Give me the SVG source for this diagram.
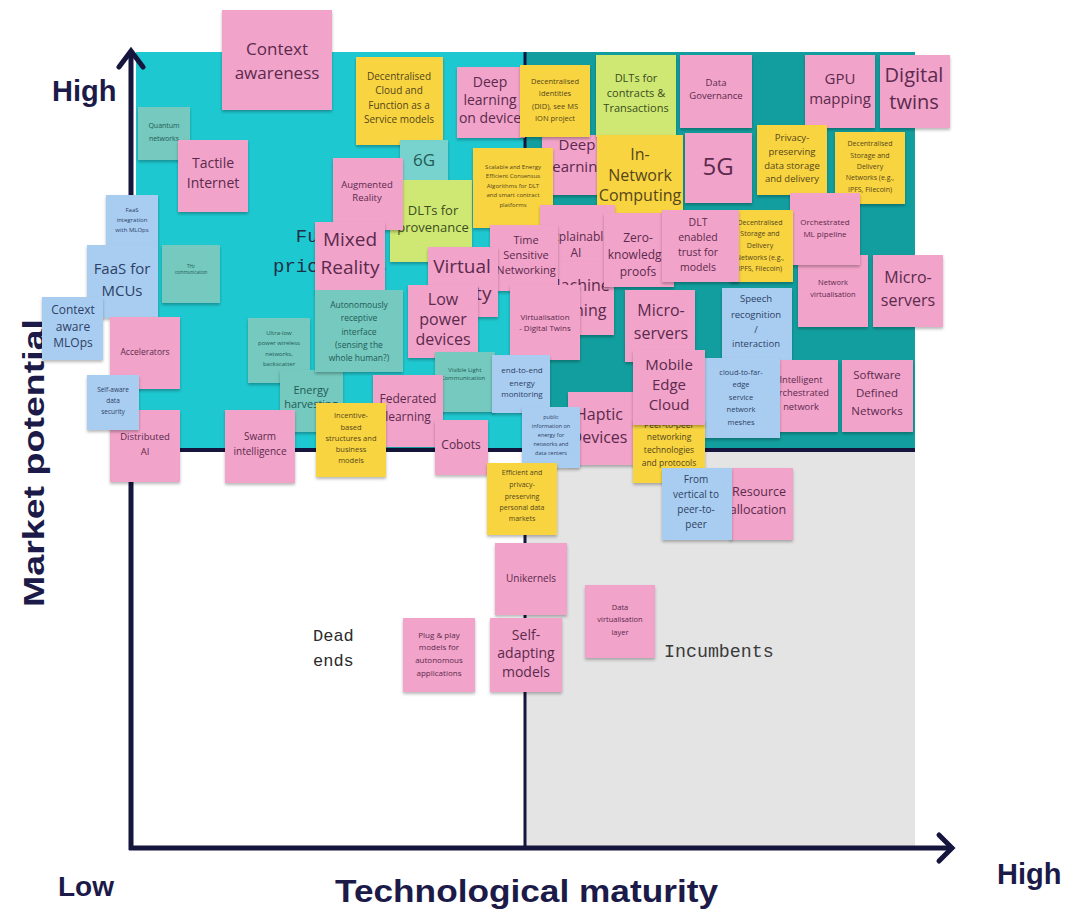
<svg xmlns="http://www.w3.org/2000/svg" width="1066" height="916" viewBox="0 0 1066 916">
<defs>
<filter id="sh" x="-10%" y="-10%" width="120%" height="130%">
<feDropShadow dx="0" dy="2" stdDeviation="1.6" flood-color="#000" flood-opacity="0.28"/>
</filter>
<style>
.note rect{filter:url(#sh)}
.pk{fill:#f2a3c9}.yl{fill:#f8d43f}.lm{fill:#cee873}.bl{fill:#a9cdf0}.tg{fill:#74c9bf}.tl{fill:#78d3cf}
.note text{font-family:"Open Sans","Noto Sans",sans-serif;text-anchor:middle}
.pk+text{fill:#5b2a4e}.yl+text{fill:#55461c}.lm+text{fill:#3c4d20}.bl+text{fill:#2d3f66}.tg+text,.tl+text{fill:#245a55}
.lab{font-family:"Liberation Sans",Arial,sans-serif;font-weight:bold;fill:#1b1a48}
.mono{font-family:"Liberation Mono","DejaVu Sans Mono",monospace}
.ax{stroke:#15153d;fill:none}
</style>
</defs>
<rect width="1066" height="916" fill="#ffffff"/>

<!-- quadrant backgrounds -->
<g id="quadrants">
<rect x="136" y="52" width="389" height="398" fill="#1ec8d0"/>
<rect x="525" y="52" width="390" height="398" fill="#129e9e"/>
<rect x="525" y="450" width="390" height="397" fill="#e4e4e4"/>
</g>

<!-- axes and quadrant dividers -->
<g id="axes">
<line class="ax" x1="131" y1="450" x2="915" y2="450" stroke-width="4"/>
<line class="ax" x1="525" y1="52" x2="525" y2="848" stroke-width="3"/>
<line class="ax" x1="131" y1="52" x2="131" y2="850" stroke-width="5"/>
<polyline class="ax" points="119,67 131,51 143,67" stroke-width="5" stroke-linecap="round"/>
<line class="ax" x1="129" y1="848" x2="951" y2="848" stroke-width="5"/>
<polyline class="ax" points="939,835 952,848 939,861" stroke-width="5" stroke-linecap="round"/>
</g>

<!-- axis labels and quadrant names -->
<g id="labels">
<text class="lab" x="52" y="101" font-size="29">High</text>
<text class="lab" x="58" y="896" font-size="28">Low</text>
<text class="lab" x="997" y="884" font-size="29">High</text>
<text class="lab" x="335" y="902" font-size="32" textLength="383" lengthAdjust="spacingAndGlyphs">Technological maturity</text>
<text class="lab" transform="translate(44,463) rotate(-90)" text-anchor="middle" font-size="30" textLength="288" lengthAdjust="spacingAndGlyphs">Market potential</text>
<text class="mono" x="330" y="242" font-size="19" fill="#1d3047" text-anchor="middle">Future</text>
<text class="mono" x="330" y="272" font-size="19" fill="#1d3047" text-anchor="middle">priorities</text>
<text class="mono" x="313" y="641" font-size="17" fill="#2a2a2a">Dead</text>
<text class="mono" x="313" y="666" font-size="17" fill="#2a2a2a">ends</text>
<text class="mono" x="664" y="657" font-size="18.3" fill="#3a3a3a">Incumbents</text>
</g>

<g id="connectors"/>

<!-- sticky notes, back to front -->
<g id="n-context-awareness" class="note"><rect class="pk" x="222" y="10" width="110" height="100"/><text font-size="17"><tspan x="277" y="55">Context</tspan><tspan x="277" y="79">awareness</tspan></text></g>
<g id="n-quantum-networks" class="note"><rect class="tg" x="138" y="107" width="52" height="53"/><text font-size="7"><tspan x="164" y="128">Quantum</tspan><tspan x="164" y="141">networks</tspan></text></g>
<g id="n-tactile-internet" class="note"><rect class="pk" x="178" y="140" width="70" height="72"/><text font-size="14"><tspan x="213" y="168">Tactile</tspan><tspan x="213" y="188">Internet</tspan></text></g>
<g id="n-faas-mlops" class="note"><rect class="bl" x="106" y="195" width="52" height="50"/><text font-size="6"><tspan x="132" y="212">FaaS</tspan><tspan x="132" y="222">integration</tspan><tspan x="132" y="232">with MLOps</tspan></text></g>
<g id="n-faas-mcus" class="note"><rect class="bl" x="87" y="245" width="71" height="73"/><text font-size="15"><tspan x="122" y="274">FaaS for</tspan><tspan x="122" y="296">MCUs</tspan></text></g>
<g id="n-thz" class="note"><rect class="tg" x="162" y="245" width="58" height="58"/><text font-size="4.5"><tspan x="191" y="268">THz</tspan><tspan x="191" y="274">communication</tspan></text></g>
<g id="n-context-mlops" class="note"><rect class="bl" x="42" y="297" width="61" height="63"/><text font-size="12"><tspan x="73" y="314">Context</tspan><tspan x="73" y="331">aware</tspan><tspan x="73" y="347">MLOps</tspan></text></g>
<g id="n-accelerators" class="note"><rect class="pk" x="110" y="317" width="70" height="72"/><text font-size="8.5"><tspan x="145" y="355">Accelerators</tspan></text></g>
<g id="n-distributed-ai" class="note"><rect class="pk" x="110" y="410" width="70" height="72"/><text font-size="9.5"><tspan x="145" y="440">Distributed</tspan><tspan x="145" y="455">AI</tspan></text></g>
<g id="n-self-aware" class="note"><rect class="bl" x="87" y="375" width="52" height="55"/><text font-size="6.5"><tspan x="113" y="392">Self-aware</tspan><tspan x="113" y="403">data</tspan><tspan x="113" y="414">security</tspan></text></g>
<g id="n-ultra-low" class="note"><rect class="tg" x="248" y="318" width="62" height="65"/><text font-size="6"><tspan x="279" y="335">Ultra-low</tspan><tspan x="279" y="345">power wireless</tspan><tspan x="279" y="356">networks,</tspan><tspan x="279" y="366">backscatter</tspan></text></g>
<g id="n-energy-harvesting" class="note"><rect class="tg" x="280" y="370" width="63" height="62"/><text font-size="11"><tspan x="311" y="394">Energy</tspan><tspan x="311" y="408">harvesting</tspan></text></g>
<g id="n-swarm" class="note"><rect class="pk" x="225" y="410" width="70" height="73"/><text font-size="10"><tspan x="260" y="440">Swarm</tspan><tspan x="260" y="455">intelligence</tspan></text></g>
<g id="n-dcfaas" class="note"><rect class="yl" x="356" y="57" width="87" height="88"/><text font-size="10"><tspan x="399" y="80">Decentralised</tspan><tspan x="399" y="94">Cloud and</tspan><tspan x="399" y="109">Function as a</tspan><tspan x="399" y="123">Service models</tspan></text></g>
<g id="n-6g" class="note"><rect class="tl" x="400" y="140" width="48" height="55"/><text font-size="17"><tspan x="424" y="166">6G</tspan></text></g>
<g id="n-dlt-provenance" class="note"><rect class="lm" x="390" y="180" width="82" height="82"/><text font-size="13"><tspan x="433" y="215">DLTs for</tspan><tspan x="433" y="232">provenance</tspan></text></g>
<g id="n-augmented" class="note"><rect class="pk" x="333" y="158" width="70" height="72"/><text font-size="9.5"><tspan x="367" y="188">Augmented</tspan><tspan x="367" y="201">Reality</tspan></text></g>
<g id="n-mixed" class="note"><rect class="pk" x="315" y="222" width="70" height="70"/><text font-size="19"><tspan x="350" y="246">Mixed</tspan><tspan x="350" y="274">Reality</tspan></text></g>
<g id="n-autonomous" class="note"><rect class="tg" x="315" y="290" width="88" height="82"/><text font-size="8.5"><tspan x="359" y="308">Autonomously</tspan><tspan x="359" y="321">receptive</tspan><tspan x="359" y="335">interface</tspan><tspan x="359" y="348">(sensing the</tspan><tspan x="359" y="361">whole human?)</tspan></text></g>
<g id="n-deep-device" class="note"><rect class="pk" x="457" y="67" width="68" height="71"/><text font-size="14"><tspan x="490" y="87">Deep</tspan><tspan x="490" y="105">learning</tspan><tspan x="490" y="123">on device</tspan></text></g>
<g id="n-deep-learning" class="note"><rect class="pk" x="542" y="135" width="70" height="60"/><text font-size="15"><tspan x="577" y="150">Deep</tspan><tspan x="577" y="172">learning</tspan></text></g>
<g id="n-did" class="note"><rect class="yl" x="520" y="65" width="70" height="72"/><text font-size="7.5"><tspan x="555" y="84">Decentralised</tspan><tspan x="555" y="96">Identities</tspan><tspan x="555" y="109">(DID), see MS</tspan><tspan x="555" y="121">ION project</tspan></text></g>
<g id="n-scalable" class="note"><rect class="yl" x="473" y="148" width="80" height="80"/><text font-size="6"><tspan x="513" y="169">Scalable and Energy</tspan><tspan x="513" y="178">Efficient Consensus</tspan><tspan x="513" y="188">Algorithms for DLT</tspan><tspan x="513" y="197">and smart contract</tspan><tspan x="513" y="207">platforms</tspan></text></g>
<g id="n-dlt-contracts" class="note"><rect class="lm" x="596" y="55" width="80" height="82"/><text font-size="11"><tspan x="636" y="82">DLTs for</tspan><tspan x="636" y="97">contracts &amp;</tspan><tspan x="636" y="112">Transactions</tspan></text></g>
<g id="n-in-network" class="note"><rect class="yl" x="597" y="135" width="86" height="85"/><text font-size="16"><tspan x="640" y="160">In-</tspan><tspan x="640" y="181">Network</tspan><tspan x="640" y="201">Computing</tspan></text></g>
<g id="n-data-governance" class="note"><rect class="pk" x="680" y="55" width="72" height="73"/><text font-size="9.5"><tspan x="716" y="86">Data</tspan><tspan x="716" y="99">Governance</tspan></text></g>
<g id="n-5g" class="note"><rect class="pk" x="685" y="133" width="67" height="70"/><text font-size="24"><tspan x="718" y="175">5G</tspan></text></g>
<g id="n-gpu" class="note"><rect class="pk" x="805" y="55" width="70" height="73"/><text font-size="15"><tspan x="840" y="84">GPU</tspan><tspan x="840" y="104">mapping</tspan></text></g>
<g id="n-digital-twins" class="note"><rect class="pk" x="880" y="55" width="70" height="73"/><text font-size="20"><tspan x="914" y="82">Digital</tspan><tspan x="914" y="109">twins</tspan></text></g>
<g id="n-privacy-storage" class="note"><rect class="yl" x="757" y="125" width="70" height="70"/><text font-size="9.5"><tspan x="792" y="141">Privacy-</tspan><tspan x="792" y="155">preserving</tspan><tspan x="792" y="169">data storage</tspan><tspan x="792" y="182">and delivery</tspan></text></g>
<g id="n-storage-1" class="note"><rect class="yl" x="835" y="132" width="70" height="72"/><text font-size="7"><tspan x="870" y="146">Decentralised</tspan><tspan x="870" y="158">Storage and</tspan><tspan x="870" y="169">Delivery</tspan><tspan x="870" y="180">Networks (e.g.,</tspan><tspan x="870" y="192">IPFS, Filecoin)</tspan></text></g>
<g id="n-net-virt" class="note"><rect class="pk" x="798" y="255" width="70" height="72"/><text font-size="7.5"><tspan x="833" y="285">Network</tspan><tspan x="833" y="297">virtualisation</tspan></text></g>
<g id="n-orchestrated-ml" class="note"><rect class="pk" x="790" y="193" width="70" height="72"/><text font-size="8"><tspan x="825" y="225">Orchestrated</tspan><tspan x="825" y="237">ML pipeline</tspan></text></g>
<g id="n-microservers-2" class="note"><rect class="pk" x="873" y="255" width="70" height="72"/><text font-size="16"><tspan x="908" y="283">Micro-</tspan><tspan x="908" y="306">servers</tspan></text></g>
<g id="n-explainable" class="note"><rect class="pk" x="540" y="205" width="75" height="75"/><text font-size="12"><tspan x="578" y="241">Explainable</tspan><tspan x="576" y="257">AI</tspan></text></g>
<g id="n-machine-learning" class="note"><rect class="pk" x="540" y="262" width="74" height="73"/><text font-size="16"><tspan x="578" y="291">Machine</tspan><tspan x="576" y="316">learning</tspan></text></g>
<g id="n-time-sensitive" class="note"><rect class="pk" x="490" y="225" width="68" height="66"/><text font-size="11"><tspan x="526" y="244">Time</tspan><tspan x="526" y="259">Sensitive</tspan><tspan x="526" y="274">Networking</tspan></text></g>
<g id="n-virtual-reality" class="note"><rect class="pk" x="428" y="247" width="70" height="70"/><text font-size="19"><tspan x="462" y="273">Virtual</tspan><tspan x="462" y="300">Reality</tspan></text></g>
<g id="n-low-power" class="note"><rect class="pk" x="408" y="285" width="70" height="73"/><text font-size="16"><tspan x="443" y="305">Low</tspan><tspan x="443" y="325">power</tspan><tspan x="443" y="345">devices</tspan></text></g>
<g id="n-virtualisation-twins" class="note"><rect class="pk" x="510" y="285" width="70" height="75"/><text font-size="8"><tspan x="545" y="320">Virtualisation</tspan><tspan x="545" y="331">- Digital Twins</tspan></text></g>
<g id="n-zero-knowledge" class="note"><rect class="pk" x="604" y="213" width="70" height="74"/><text font-size="12"><tspan x="638" y="242">Zero-</tspan><tspan x="638" y="259">knowledge</tspan><tspan x="638" y="276">proofs</tspan></text></g>
<g id="n-storage-2" class="note"><rect class="yl" x="730" y="210" width="63" height="72"/><text font-size="7"><tspan x="760" y="225">Decentralised</tspan><tspan x="760" y="236">Storage and</tspan><tspan x="760" y="248">Delivery</tspan><tspan x="760" y="260">Networks (e.g.,</tspan><tspan x="760" y="271">IPFS, Filecoin)</tspan></text></g>
<g id="n-dlt-trust" class="note"><rect class="pk" x="662" y="210" width="77" height="72"/><text font-size="10.5"><tspan x="698" y="226">DLT</tspan><tspan x="698" y="241">enabled</tspan><tspan x="698" y="256">trust for</tspan><tspan x="698" y="271">models</tspan></text></g>
<g id="n-microservers-1" class="note"><rect class="pk" x="625" y="290" width="70" height="72"/><text font-size="16"><tspan x="661" y="316">Micro-</tspan><tspan x="661" y="339">servers</tspan></text></g>
<g id="n-speech" class="note"><rect class="bl" x="722" y="288" width="70" height="75"/><text font-size="9.5"><tspan x="756" y="302">Speech</tspan><tspan x="756" y="318">recognition</tspan><tspan x="756" y="333">/</tspan><tspan x="756" y="347">interaction</tspan></text></g>
<g id="n-intelligent" class="note"><rect class="pk" x="776" y="360" width="62" height="72"/><text font-size="9.3"><tspan x="801" y="383">Intelligent</tspan><tspan x="801" y="396">orchestrated</tspan><tspan x="801" y="410">network</tspan></text></g>
<g id="n-cloud-far-edge" class="note"><rect class="bl" x="705" y="358" width="75" height="80"/><text font-size="7.5"><tspan x="741" y="375">cloud-to-far-</tspan><tspan x="741" y="387">edge</tspan><tspan x="741" y="400">service</tspan><tspan x="741" y="412">network</tspan><tspan x="741" y="425">meshes</tspan></text></g>
<g id="n-sdn" class="note"><rect class="pk" x="842" y="360" width="71" height="72"/><text font-size="11.5"><tspan x="877" y="379">Software</tspan><tspan x="877" y="397">Defined</tspan><tspan x="877" y="415">Networks</tspan></text></g>
<g id="n-vlc" class="note"><rect class="tg" x="435" y="352" width="60" height="60"/><text font-size="6"><tspan x="465" y="372">Visible Light</tspan><tspan x="463" y="380">Communication</tspan></text></g>
<g id="n-e2e-energy" class="note"><rect class="bl" x="492" y="355" width="58" height="58"/><text font-size="8"><tspan x="522" y="373">end-to-end</tspan><tspan x="522" y="386">energy</tspan><tspan x="522" y="397">monitoring</tspan></text></g>
<g id="n-haptic" class="note"><rect class="pk" x="568" y="392" width="67" height="73"/><text font-size="16"><tspan x="599" y="420">Haptic</tspan><tspan x="599" y="443">Devices</tspan></text></g>
<g id="n-public-info" class="note"><rect class="bl" x="522" y="407" width="58" height="61"/><text font-size="5.5"><tspan x="551" y="419">public</tspan><tspan x="551" y="428">information on</tspan><tspan x="551" y="437">energy for</tspan><tspan x="551" y="446">networks and</tspan><tspan x="551" y="455">data centers</tspan></text></g>
<g id="n-peer-to-peer" class="note"><rect class="yl" x="633" y="420" width="72" height="63"/><text font-size="8.5"><tspan x="669" y="428">Peer-to-peer</tspan><tspan x="669" y="440">networking</tspan><tspan x="669" y="453">technologies</tspan><tspan x="669" y="466">and protocols</tspan></text></g>
<g id="n-mobile-edge" class="note"><rect class="pk" x="633" y="350" width="72" height="75"/><text font-size="15"><tspan x="669" y="370">Mobile</tspan><tspan x="669" y="390">Edge</tspan><tspan x="669" y="410">Cloud</tspan></text></g>
<g id="n-federated" class="note"><rect class="pk" x="373" y="375" width="70" height="72"/><text font-size="12"><tspan x="408" y="403">Federated</tspan><tspan x="408" y="421">learning</tspan></text></g>
<g id="n-incentive" class="note"><rect class="yl" x="316" y="403" width="70" height="74"/><text font-size="7.5"><tspan x="351" y="418">Incentive-</tspan><tspan x="351" y="430">based</tspan><tspan x="351" y="441">structures and</tspan><tspan x="351" y="452">business</tspan><tspan x="351" y="463">models</tspan></text></g>
<g id="n-cobots" class="note"><rect class="pk" x="435" y="420" width="53" height="55"/><text font-size="12"><tspan x="461" y="449">Cobots</tspan></text></g>
<g id="n-data-markets" class="note"><rect class="yl" x="487" y="463" width="70" height="72"/><text font-size="7"><tspan x="522" y="475">Efficient and</tspan><tspan x="522" y="487">privacy-</tspan><tspan x="522" y="499">preserving</tspan><tspan x="522" y="510">personal data</tspan><tspan x="522" y="521">markets</tspan></text></g>
<g id="n-resource" class="note"><rect class="pk" x="730" y="468" width="63" height="72"/><text font-size="12.5"><tspan x="759" y="496">Resource</tspan><tspan x="758" y="514">allocation</tspan></text></g>
<g id="n-vertical-p2p" class="note"><rect class="bl" x="662" y="468" width="70" height="72"/><text font-size="10"><tspan x="696" y="483">From</tspan><tspan x="696" y="498">vertical to</tspan><tspan x="696" y="513">peer-to-</tspan><tspan x="696" y="528">peer</tspan></text></g>
<g id="n-unikernels" class="note"><rect class="pk" x="495" y="543" width="72" height="72"/><text font-size="10"><tspan x="531" y="582">Unikernels</tspan></text></g>
<g id="n-data-virt" class="note"><rect class="pk" x="585" y="585" width="70" height="73"/><text font-size="7.5"><tspan x="620" y="610">Data</tspan><tspan x="620" y="622">virtualisation</tspan><tspan x="620" y="635">layer</tspan></text></g>
<g id="n-self-adapting" class="note"><rect class="pk" x="490" y="618" width="72" height="74"/><text font-size="14"><tspan x="526" y="640">Self-</tspan><tspan x="526" y="658">adapting</tspan><tspan x="526" y="677">models</tspan></text></g>
<g id="n-plug-play" class="note"><rect class="pk" x="403" y="618" width="72" height="74"/><text font-size="8"><tspan x="439" y="638">Plug &amp; play</tspan><tspan x="439" y="650">models for</tspan><tspan x="439" y="663">autonomous</tspan><tspan x="439" y="676">applications</tspan></text></g>
</svg>
